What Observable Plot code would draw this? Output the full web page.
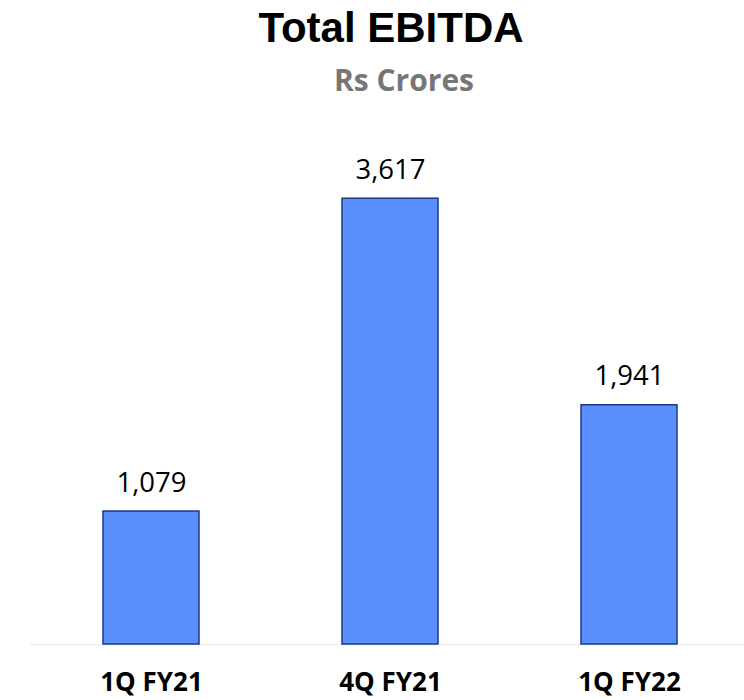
<!DOCTYPE html>
<html>
<head>
<meta charset="utf-8">
<script src="https://cdn.jsdelivr.net/npm/d3@7"></script>
<script src="https://cdn.jsdelivr.net/npm/@observablehq/plot@0.6"></script>
<style>
  html, body { margin: 0; padding: 0; background: #ffffff; }
  #wrap { width: 744px; height: 700px; overflow: hidden; }
  .title { box-sizing: border-box; height: 53px; padding-top: 3px; padding-left: 38px; text-align: center;
           font-family: "Liberation Sans", Arial, sans-serif; font-weight: bold; font-size: 42px; line-height: 50px; color: #000; }
  .subtitle { box-sizing: border-box; height: 40px; margin-top: 7px; padding-left: 64px; text-align: center;
              font-family: "Open Sans", sans-serif; font-weight: bold; font-size: 30px; line-height: 40px; color: #767676; }
  svg { display: block; }
</style>
</head>
<body>
<div id="wrap">
  <div class="title">Total EBITDA</div>
  <div class="subtitle">Rs Crores</div>
  <div id="chart"></div>
</div>
<script>
const categories = ["1Q FY21", "4Q FY21", "1Q FY22"];
const values = [1079, 3617, 1941];
const valueLabels = ["1,079", "3,617", "1,941"];

const data = categories.map((c, i) => ({category: c, value: values[i], label: valueLabels[i]}));

const chart = Plot.plot({
  width: 744,
  height: 600,
  marginTop: 51,
  marginBottom: 56,
  marginLeft: 30,
  marginRight: 0,
  x: {type: "band", domain: categories, range: [31, 749], paddingInner: 0.6, paddingOuter: 0.3, label: null},
  y: {domain: [0, 4000], axis: null},
  marks: [
    Plot.ruleY([0], {stroke: "#eeeeee", strokeWidth: 1.5}),
    Plot.barY(data, {x: "category", y: "value", fill: "#5B8FFE", stroke: "#1C3A85", strokeWidth: 1.5}),
    Plot.text(data, {x: "category", y: "value", text: "label", lineAnchor: "bottom", dy: -20,
      fontSize: 27.5, fontFamily: "Open Sans, sans-serif", fill: "#000"}),
    Plot.axisX({tickSize: 0, tickPadding: 28, fontSize: 26, fontWeight: "bold",
      fontFamily: "Open Sans, sans-serif", fill: "#000", label: null})
  ]
});
chart.style.overflow = "visible";
document.getElementById("chart").appendChild(chart);
</script>
</body>
</html>
